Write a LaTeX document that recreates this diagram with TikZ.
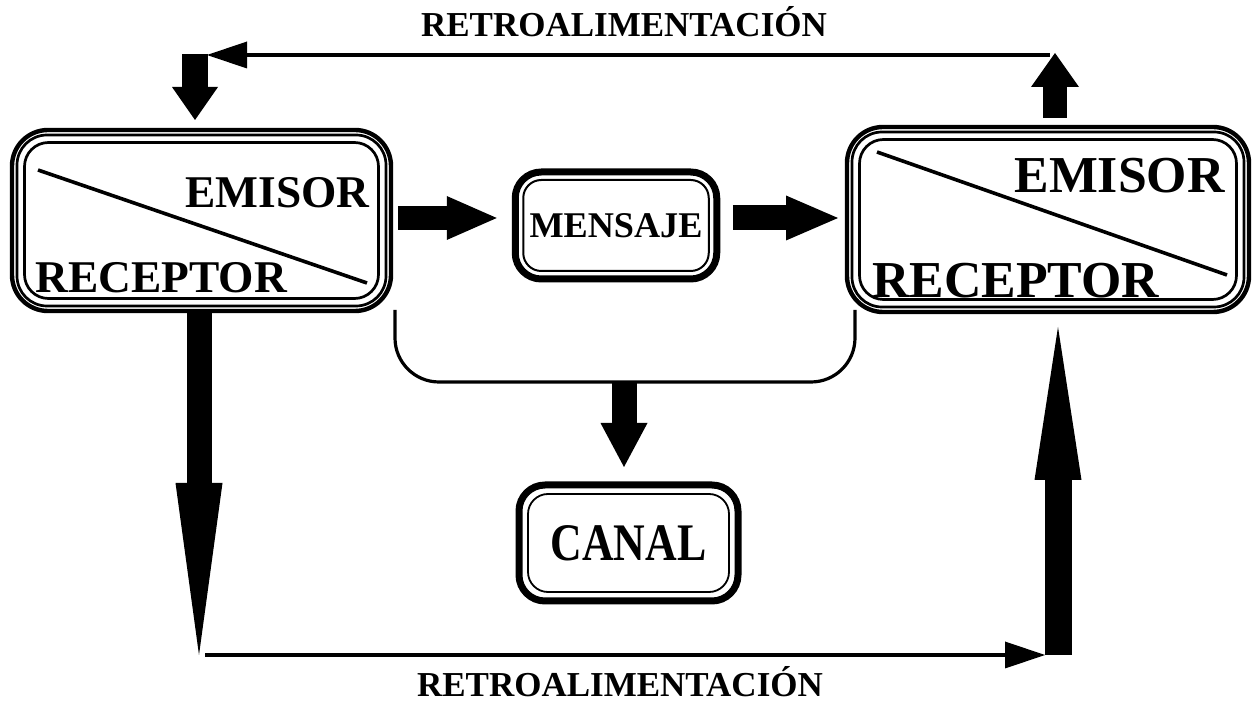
\documentclass[tikz,border=0pt]{standalone}
\usepackage{fontspec}
\setmainfont{Liberation Serif}
\usetikzlibrary{arrows.meta,calc}

\tikzset{
  bigbox/.style={draw, line width=2.2pt, rounded corners=18pt, outer sep=0pt, inner sep=0pt},
  boldbox/.style={draw, line width=3.5pt, rounded corners=13pt, outer sep=0pt, inner sep=0pt},
  innerline/.style={line width=1.35pt},
  lbl/.style={font=\bfseries\fontsize{#1}{#1}\selectfont, inner sep=0pt},
  fat/.style n args={3}{line width=#1, -{Triangle[length=#2, width=#3, line width=0pt]}},
  feedline/.style={line width=2pt, -{Triangle[length=20pt, width=13.5pt, line width=0pt]}},
}

\begin{document}
\begin{tikzpicture}[x=0.5pt, y=0.5pt]
    \useasboundingbox (0,0) rectangle (1254,702);

    % Left box
    \node[bigbox, minimum width=189.5pt, minimum height=90.5pt] (er1) at (201.5,481.5) {};
    \draw[innerline, rounded corners=15pt] ($(er1.south west)+(5,5)$) rectangle ($(er1.north east)-(5,5)$);
    \draw[innerline, rounded corners=12pt] ($(er1.south west)+(12.5,12.5)$) rectangle ($(er1.north east)-(12.5,12.5)$);
    \draw[line width=1.8pt] ($(er1.north west)+(26,-40)$) -- ($(er1.south east)+(-24,28)$);
    \node[lbl=22.7, anchor=base east] (em1) at ($(er1.north east)+(-21,-78)$) {EMISOR};
    \node[lbl=22.7, anchor=base west] (re1) at ($(er1.south west)+(23,18)$) {RECEPTOR};

    % Right box
    \node[bigbox, minimum width=201pt, minimum height=92.5pt] (er2) at (1048,482.5) {};
    \draw[innerline, rounded corners=15pt] ($(er2.south west)+(5,5)$) rectangle ($(er2.north east)-(5,5)$);
    \draw[innerline, rounded corners=12pt] ($(er2.south west)+(12.5,12.5)$) rectangle ($(er2.north east)-(12.5,12.5)$);
    \draw[line width=1.8pt] ($(er2.north west)+(30,-25)$) -- ($(er2.south east)+(-22,37)$);
    \node[lbl=25.9, anchor=base east] (em2) at ($(er2.north east)+(-24,-66)$) {EMISOR};
    \node[lbl=25.9, anchor=base west] (re2) at ($(er2.south west)+(25,14)$) {RECEPTOR};

    % Mensaje and canal
    \node[boldbox, minimum width=100.75pt, minimum height=53.5pt, lbl=18.1] (msg) at (616,476.5) {MENSAJE};
    \draw[line width=1pt, rounded corners=9pt] ($(msg.south west)+(8,8)$) rectangle ($(msg.north east)-(8,8)$);
    \node[boldbox, minimum width=109.5pt, minimum height=58pt, lbl=26.4] (can) at (628.5,159) {\scalebox{0.83}[1]{CANAL}};
    \draw[line width=0.9pt, rounded corners=10pt] ($(can.south west)+(9,9)$) rectangle ($(can.north east)-(9,9)$);

    % Message flow
    \draw[fat={12pt}{25pt}{22pt}] ($(er1.east)+(7,2.5)$) -- ($(msg.west)+(-18.5,7.5)$);
    \draw[fat={12.5pt}{26pt}{22.5pt}] ($(msg.east)+(16,7.5)$) -- ($(er2.west)+(-9,1.5)$);

    % Bracket down to the channel
    \coordinate (brk) at (624,320);
    \draw[line width=1.6pt, rounded corners=22pt] ($(er1.south east)+(4,1)$) |- (brk) -| ($(er2.south west)+(8,2)$);
    \draw[fat={12.5pt}{22pt}{23.5pt}] (brk) -- ($(can.north)+(-4.5,18)$);

    % Bottom feedback
    \coordinate (fbL) at (199,47);
    \coordinate (fbR) at (1058,47);
    \draw[fat={12.5pt}{86pt}{23.5pt}] (er1.south -| fbL) -- (fbL);
    \draw[feedline] ($(fbL)+(6,0)$) -- ($(fbR)+(-13,0)$);
    \draw[fat={13.5pt}{76.5pt}{23.5pt}] (fbR) -- ($(er2.south -| fbR)+(0,-15)$);
    \node[lbl=17.5, anchor=base] (fb2) at (620,5) {RETROALIMENTACIÓN};

    % Top feedback
    \coordinate (ftR) at (1055,649);
    \coordinate (ftL) at (195,647);
    \draw[fat={12pt}{17pt}{24pt}] ($(er2.north -| ftR)+(0,9)$) -- (ftR);
    \draw[feedline] ($(ftR)+(-5,-2)$) -- ($(ftL)+(12,0)$);
    \draw[fat={13pt}{16.5pt}{23pt}] ($(ftL)+(0,1)$) -- ($(er1.north -| ftL)+(0,10)$);
    \node[lbl=17.5, anchor=base] (fb1) at (624,665) {RETROALIMENTACIÓN};

\end{tikzpicture}
\end{document}
